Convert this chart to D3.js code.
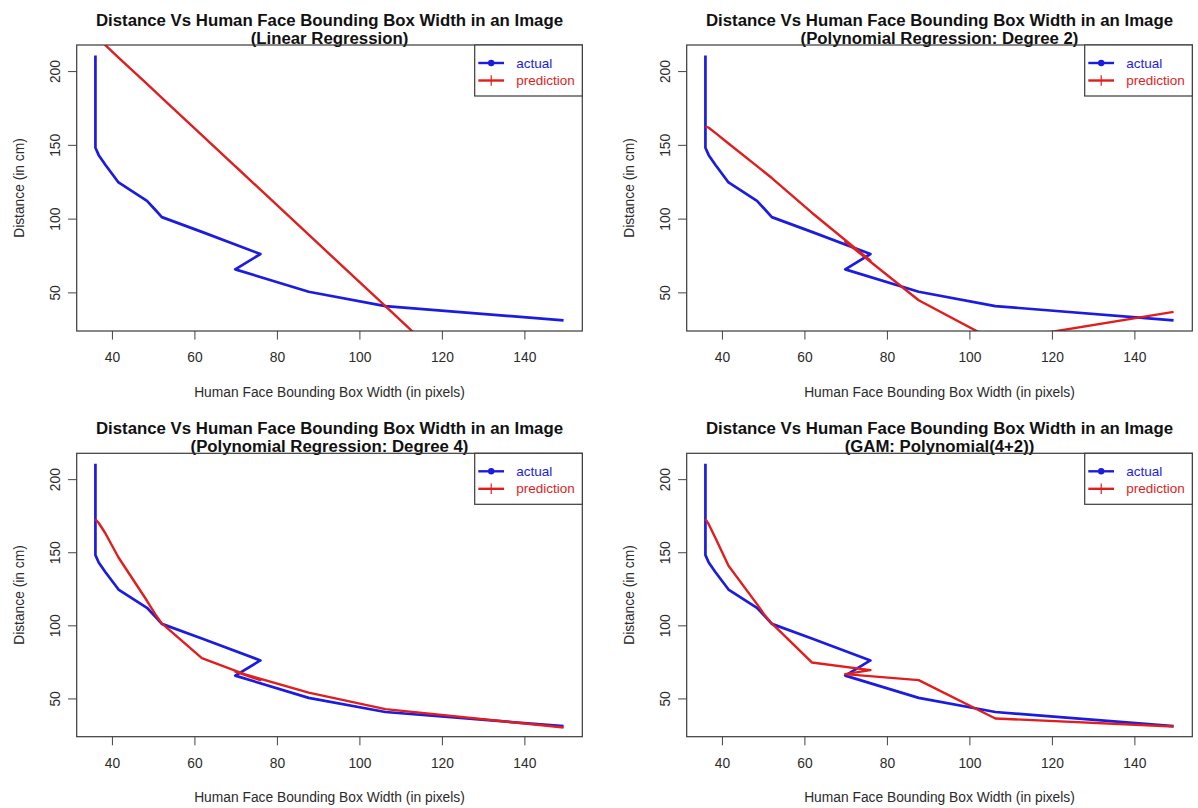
<!DOCTYPE html>
<html>
<head>
<meta charset="utf-8">
<script src="https://cdnjs.cloudflare.com/ajax/libs/d3/7.8.5/d3.min.js"></script>
<style>
  body { margin: 0; background: #fff; }
  svg { display: block; font-family: "Liberation Sans", Arial, sans-serif; }
</style>
</head>
<body>
<svg id="chart" width="1198" height="808"></svg>
<script>
// face box width (px) in the order the points were plotted
var widthPx = [36, 36, 36.8, 38.4, 41.6, 48.5, 50.5, 52.1, 61.8, 76, 69.9, 87.7, 106.3, 149.5];
var distActual = [210.5, 148, 143, 136.5, 124.5, 112, 106, 101, 91, 76, 65.6, 50.4, 40.7, 31];

// model predictions, same order
var predLinear = [223.8, 223.8, 221.7, 217.6, 209.2, 191.3, 186.0, 181.9, 156.6, 119.6, 135.5, 89.1, 40.6, -71.9];
var predPoly2 = [162.6, 162.6, 161.6, 158.1, 150.9, 135.6, 131.1, 127.5, 104, 71.5, 84.4, 44.7, 17.0, 36.8];
var predPoly4 = [172.6, 172.6, 170, 163, 146.4, 116.8, 107.7, 101.3, 77.6, 62.5, 68.4, 54, 42.7, 30.1];
var predGam = [172.6, 172.6, 169.2, 159.9, 140.7, 114.5, 106.5, 101.3, 74.6, 69.4, 66.6, 62.5, 36.3, 30.8];

var xTicks = [40, 60, 80, 100, 120, 140];
var yTicks = [50, 100, 150, 200];

var mainTitle = "Distance Vs Human Face Bounding Box Width in an Image";
var subTitles = ["(Linear Regression)", "(Polynomial Regression: Degree 2)",
                 "(Polynomial Regression: Degree 4)", "(GAM: Polynomial(4+2))"];
var predictions = [predLinear, predPoly2, predPoly4, predGam];
var legendLabels = ["actual", "prediction"];

var BLUE = "#1c1ce0", RED = "#e01e1e";

// plot box of every panel (R par(mfrow=c(2,2)))
var boxes = [
  {left: 76.7, top: 45, right: 582.3, bottom: 331},
  {left: 686.7, top: 45, right: 1192.3, bottom: 331},
  {left: 76.7, top: 453.3, right: 582.3, bottom: 736.7},
  {left: 686.7, top: 453.3, right: 1192.3, bottom: 736.7}
];

var svg = d3.select("#chart");
svg.append("rect").attr("width", 1198).attr("height", 808).attr("fill", "#fff");

// R style 4% padding around the data range
function pad(ext) {
  var r = ext[1] - ext[0];
  return [ext[0] - 0.04 * r, ext[1] + 0.04 * r];
}
var xDom = pad(d3.extent(widthPx));
var yDom = pad(d3.extent(distActual));

function drawPanel(i) {
  var b = boxes[i];
  var x = d3.scaleLinear().domain(xDom).range([b.left, b.right]);
  var y = d3.scaleLinear().domain(yDom).range([b.bottom, b.top]);
  var g = svg.append("g");
  var cx = (b.left + b.right) / 2;

  g.append("clipPath").attr("id", "clip" + i)
    .append("rect")
    .attr("x", b.left).attr("y", b.top)
    .attr("width", b.right - b.left).attr("height", b.bottom - b.top);

  // titles
  g.append("text").attr("x", cx).attr("y", b.top - 19)
    .attr("text-anchor", "middle").attr("font-size", 16.8).attr("font-weight", "bold")
    .attr("fill", "#111").text(mainTitle);
  g.append("text").attr("x", cx).attr("y", b.top - 1.5)
    .attr("text-anchor", "middle").attr("font-size", 16.8).attr("font-weight", "bold")
    .attr("fill", "#111").text(subTitles[i]);

  // lines
  var line = d3.line()
    .x(function (d) { return x(d[0]); })
    .y(function (d) { return y(d[1]); });

  var actual = d3.zip(widthPx, distActual);
  var pred = d3.zip(widthPx, predictions[i]);

  var plot = g.append("g").attr("clip-path", "url(#clip" + i + ")");
  plot.append("path").datum(actual).attr("d", line)
    .attr("fill", "none").attr("stroke", BLUE).attr("stroke-width", 2.7)
    .attr("stroke-linejoin", "round");
  plot.append("path").datum(pred).attr("d", line)
    .attr("fill", "none").attr("stroke", RED).attr("stroke-width", 2.4)
    .attr("stroke-linejoin", "round");

  // axes
  var xAxis = g.append("g").attr("transform", "translate(0," + b.bottom + ")")
    .call(d3.axisBottom(x).tickValues(xTicks).tickSize(8.6).tickFormat(d3.format("d")));
  xAxis.select(".domain").remove();
  xAxis.selectAll("line").attr("stroke", "#444");
  xAxis.selectAll("text").attr("y", 31.3).attr("dy", null)
    .attr("font-size", 13.8).attr("font-family", null).attr("fill", "#2b2b2b");

  var yAxis = g.append("g").attr("transform", "translate(" + b.left + ",0)")
    .call(d3.axisLeft(y).tickValues(yTicks).tickSize(8.6).tickFormat(d3.format("d")));
  yAxis.select(".domain").remove();
  yAxis.selectAll("line").attr("stroke", "#444");
  yAxis.selectAll("text").attr("x", null).attr("dy", null)
    .attr("text-anchor", "middle").attr("transform", "translate(-17,0) rotate(-90)")
    .attr("font-size", 13.8).attr("font-family", null).attr("fill", "#2b2b2b");

  // axis titles
  g.append("text").attr("x", cx).attr("y", b.bottom + 65.5)
    .attr("text-anchor", "middle").attr("font-size", 13.8).attr("fill", "#2b2b2b")
    .text("Human Face Bounding Box Width (in pixels)");
  g.append("text")
    .attr("transform", "translate(" + (b.left - 53) + "," + ((b.top + b.bottom) / 2) + ") rotate(-90)")
    .attr("text-anchor", "middle").attr("font-size", 13.8).attr("fill", "#2b2b2b")
    .text("Distance (in cm)");

  // plot box
  g.append("rect").attr("x", b.left).attr("y", b.top)
    .attr("width", b.right - b.left).attr("height", b.bottom - b.top)
    .attr("fill", "none").attr("stroke", "#3a3a3a").attr("stroke-width", 1.2);

  // legend (topright)
  var lw = 107.6, lh = 51;
  var leg = g.append("g").attr("transform", "translate(" + (b.right - lw) + "," + b.top + ")");
  leg.append("rect").attr("width", lw).attr("height", lh)
    .attr("fill", "#fff").attr("stroke", "#3a3a3a").attr("stroke-width", 1.2);
  var rows = [{c: BLUE, y: 18}, {c: RED, y: 35.5}];
  rows.forEach(function (r, k) {
    leg.append("line").attr("x1", 3.6).attr("x2", 29.3).attr("y1", r.y).attr("y2", r.y)
      .attr("stroke", r.c).attr("stroke-width", 2.4);
    if (k === 0) {
      leg.append("circle").attr("cx", 16.5).attr("cy", r.y).attr("r", 3.2).attr("fill", r.c);
    } else {
      leg.append("line").attr("x1", 16.5).attr("x2", 16.5).attr("y1", r.y - 5.3).attr("y2", r.y + 5.3)
        .attr("stroke", r.c).attr("stroke-width", 1.2);
    }
    leg.append("text").attr("x", 41.6).attr("y", r.y + 4.6)
      .attr("font-size", 13.5).attr("fill", r.c).text(legendLabels[k]);
  });
}

for (var i = 0; i < 4; i++) {
  drawPanel(i);
}
</script>
</body>
</html>
